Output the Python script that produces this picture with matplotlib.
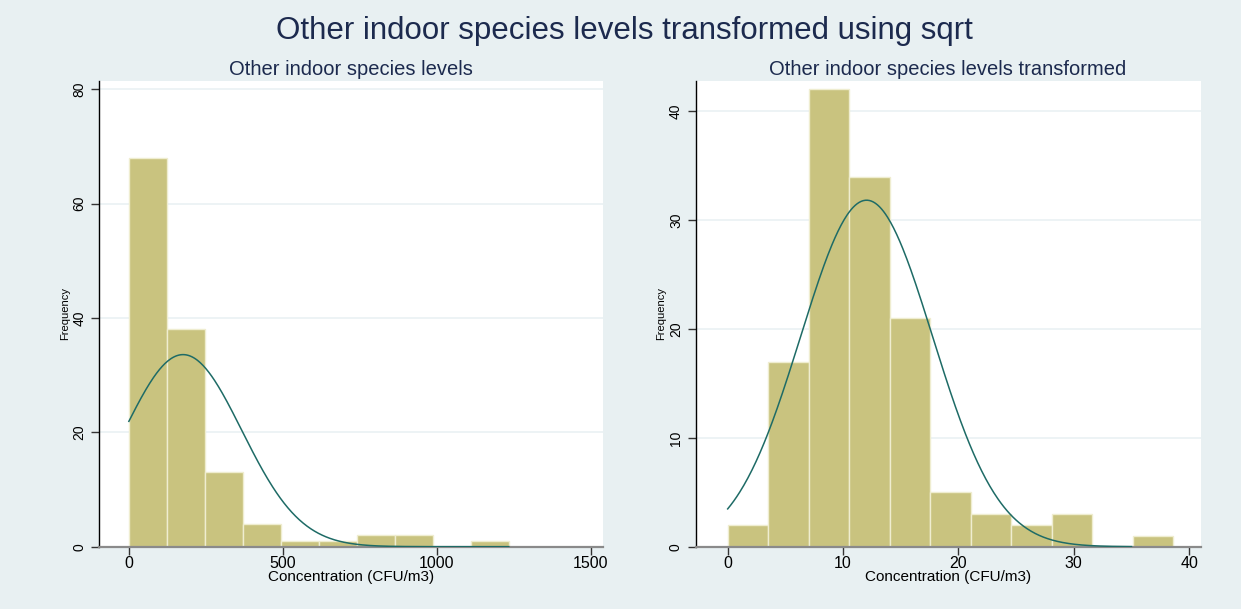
import numpy as np
import matplotlib
matplotlib.use("Agg")
import matplotlib.pyplot as plt

# ---------------- data ----------------
suptitle = "Other indoor species levels transformed using sqrt"
left_title = "Other indoor species levels"
right_title = "Other indoor species levels transformed"
xlabel = "Concentration (CFU/m3)"
ylabel = "Frequency"

raw_bin_start = 0.0
raw_bin_width = 123.4
raw_counts = [68, 38, 13, 4, 1, 1, 2, 2, 0, 1]
raw_mean = 176.0
raw_sd = 190.5
raw_range = [0.0, 1234.0]
raw_xticks = [0, 500, 1000, 1500]
raw_yticks = [0, 20, 40, 60, 80]

sqrt_bin_start = 0.0
sqrt_bin_width = 3.51
sqrt_counts = [2, 17, 42, 34, 21, 5, 3, 2, 3, 0, 1]
sqrt_mean = 12.04
sqrt_sd = 5.72
sqrt_range = [0.0, 35.0]
sqrt_xticks = [0, 10, 20, 30, 40]
sqrt_yticks = [0, 10, 20, 30, 40]

# ---------------- style ----------------
BG = "#E8F0F2"
BAR = "#C9C37F"
BAR_EDGE = "#EFEDD0"
CURVE = "#1E6B66"
TITLE_C = "#1C2A4E"
GRID = "#EAF1F3"
FONT = "Liberation Sans"

plt.rcParams["font.family"] = [FONT, "DejaVu Sans"]

fig = plt.figure(figsize=(12.41, 6.09), dpi=100, facecolor=BG)

H = 609.0
W = 1241.0
bottom = 1 - 546.7 / H
height = (546.7 - 80.7) / H

axL = fig.add_axes([99 / W, bottom, (603 - 99) / W, height])
axR = fig.add_axes([695.5 / W, bottom, (1200.7 - 695.5) / W, height])


def draw(ax, start, bw, counts, mean, sd, rng, xticks, yticks, xlim, ylim, title):
    counts = np.asarray(counts, dtype=float)
    n = counts.sum()
    lefts = start + bw * np.arange(len(counts))
    ax.set_facecolor("white")
    ax.bar(lefts, counts, width=bw, align="edge", color=BAR,
           edgecolor=BAR_EDGE, linewidth=1.0, zorder=2)
    xs = np.linspace(rng[0], rng[1], 400)
    ys = n * bw * np.exp(-0.5 * ((xs - mean) / sd) ** 2) / (sd * np.sqrt(2 * np.pi))
    ax.plot(xs, ys, color=CURVE, linewidth=1.1, zorder=3)
    ax.set_xlim(*xlim)
    ax.set_ylim(*ylim)
    ax.set_xticks(xticks)
    ax.set_yticks(yticks)
    ax.grid(axis="y", color=GRID, linewidth=1.2, zorder=0)
    ax.set_axisbelow(True)
    for s in ["top", "right"]:
        ax.spines[s].set_visible(False)
    ax.spines["left"].set_color("black")
    ax.spines["left"].set_linewidth(1.0)
    ax.spines["bottom"].set_color("#8A8A8A")
    ax.spines["bottom"].set_linewidth(1.6)
    ax.tick_params(axis="x", length=6, width=1.0, color="#333333",
                   labelsize=11.5, pad=1, labelcolor="black")
    ax.tick_params(axis="y", length=6, width=1.0, color="#333333",
                   labelsize=10, pad=3, labelcolor="black")
    for lab in ax.get_yticklabels():
        lab.set_rotation(90)
        lab.set_va("center")
    ax.set_xlabel(xlabel, fontsize=11, labelpad=-1)
    ax.set_ylabel(ylabel, fontsize=8, labelpad=2)
    ax.set_title(title, fontsize=14.5, color=TITLE_C, pad=4)


draw(axL, raw_bin_start, raw_bin_width, raw_counts, raw_mean, raw_sd, raw_range,
     raw_xticks, raw_yticks, (-97, 1540), (0, 81.5), left_title)
draw(axR, sqrt_bin_start, sqrt_bin_width, sqrt_counts, sqrt_mean, sqrt_sd, sqrt_range,
     sqrt_xticks, sqrt_yticks, (-2.79, 41.0), (0, 42.8), right_title)

fig.text(0.503, 1 - 31 / H, suptitle, ha="center", va="center",
         fontsize=22.5, color=TITLE_C)

fig.savefig("out.png", dpi=100, facecolor=BG)
